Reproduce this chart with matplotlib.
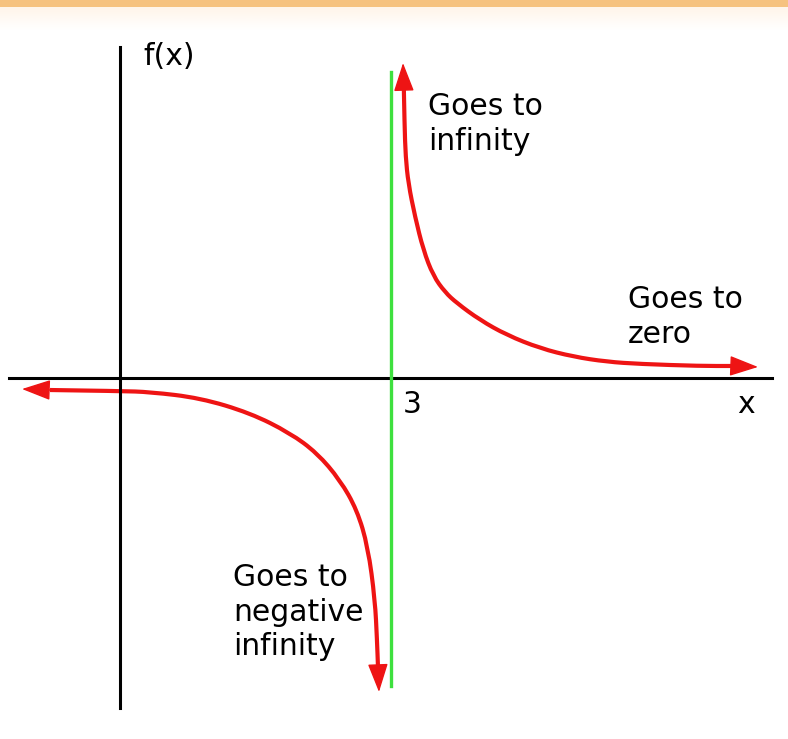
import numpy as np
import matplotlib
matplotlib.use("Agg")
import matplotlib.pyplot as plt
from matplotlib.patches import Rectangle, PathPatch
from matplotlib.path import Path

# points (x units, asymptote at x = 3)
right_x = [3.133, 3.142, 3.150, 3.162, 3.192, 3.266, 3.358, 3.468, 3.598, 3.728,
           3.985, 4.281, 4.650, 5.018, 5.388, 5.757, 6.421, 6.786, 7.063]
right_y = [3.487, 3.210, 2.800, 2.450, 2.155, 1.786, 1.417, 1.130, 0.950, 0.830,
           0.642, 0.476, 0.329, 0.236, 0.180, 0.155, 0.133, 0.133, 0.122]

left_x = [-1.085, -0.775, 0.0, 0.332, 0.886, 1.439, 1.882, 2.181, 2.436, 2.624,
          2.745, 2.823, 2.845, 2.856, 2.867]
left_y = [-0.122, -0.133, -0.144, -0.155, -0.221, -0.387, -0.609, -0.830, -1.130,
          -1.461, -1.871, -2.458, -2.900, -3.200, -3.476]

asymptote = 3
RED = "#ee1414"
GREEN = "#3ee03e"


def smooth_path(xs, ys):
    # quadratic bezier through midpoints so the curve has no corners
    pts = list(zip(xs, ys))
    verts = [pts[0]]
    codes = [Path.MOVETO]
    for i in range(1, len(pts) - 1):
        mid = ((pts[i][0] + pts[i + 1][0]) / 2, (pts[i][1] + pts[i + 1][1]) / 2)
        verts += [pts[i], mid]
        codes += [Path.CURVE3, Path.CURVE3]
    verts.append(pts[-1])
    codes.append(Path.LINETO)
    return Path(verts, codes)


def draw_branch(ax, xs, ys):
    body = smooth_path(xs[1:-1], ys[1:-1])
    ax.add_patch(PathPatch(body, facecolor="none", edgecolor=RED, lw=3.0,
                           capstyle="butt"))
    for a, b in [(1, 0), (-2, -1)]:
        ax.annotate("", xy=(xs[b], ys[b]), xytext=(xs[a], ys[a]),
                    arrowprops=dict(arrowstyle="-|>,head_length=0.9,head_width=0.32",
                                    mutation_scale=20, color=RED, lw=1,
                                    shrinkA=0, shrinkB=0))


fig = plt.figure(figsize=(7.88, 7.39), dpi=100)
ax = fig.add_axes([0, 0, 1, 1])
ax.set_xlim(-1.3285, 7.395)
ax.set_ylim(-3.9965, 4.1847)
ax.axis("off")

# axes and asymptote
ax.plot([0, 0], [-3.653, 3.664], color="black", lw=2.2)
ax.plot([-1.229, 7.218], [0, 0], color="black", lw=2.2)
ax.plot([asymptote, asymptote], [-3.410, 3.388], color=GREEN, lw=2.4)

draw_branch(ax, right_x, right_y)
draw_branch(ax, left_x, left_y)

fs = 21.5
ax.text(0.255, 3.46, "f(x)", fontsize=fs, va="baseline", ha="left")
ax.text(3.133, -0.388, "3", fontsize=fs, va="baseline", ha="left")
ax.text(6.83, -0.388, "x", fontsize=fs, va="baseline", ha="left")
ax.text(3.41, 3.166, "Goes to\ninfinity", fontsize=fs, va="top", ha="left",
        linespacing=1.25)
ax.text(5.624, 1.03, "Goes to\nzero", fontsize=fs, va="top", ha="left",
        linespacing=1.25)
ax.text(1.251, -2.048, "Goes to\nnegative\ninfinity", fontsize=fs, va="top",
        ha="left", linespacing=1.25)

# orange strip along the top edge
fig.patches.append(Rectangle((0, 1 - 7 / 739), 1, 7 / 739, transform=fig.transFigure,
                             facecolor="#f6c27f", edgecolor="none", zorder=5))
grad = fig.add_axes([0, 1 - 30 / 739, 1, 23 / 739])
g = np.linspace(0, 1, 50).reshape(-1, 1)
grad.imshow(g, aspect="auto", cmap=matplotlib.colors.LinearSegmentedColormap.from_list(
    "fade", ["#fff5ea", "#ffffff"]), extent=[0, 1, 0, 1], origin="upper")
grad.axis("off")

fig.savefig("out.png", dpi=100)
